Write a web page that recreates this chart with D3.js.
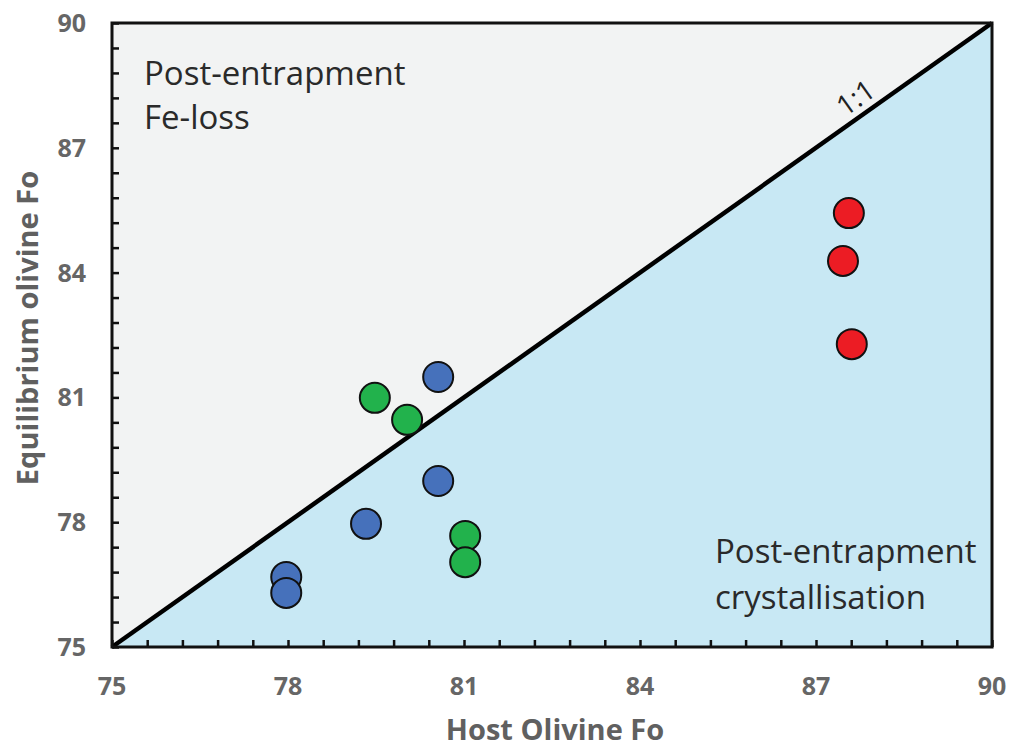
<!DOCTYPE html>
<html>
<head>
<meta charset="utf-8">
<script src="https://cdn.jsdelivr.net/npm/d3@7"></script>
<style>
  body { margin: 0; background: #fff; }
  text { font-family: "Open Sans", "Noto Sans", sans-serif; }
</style>
</head>
<body>
<svg id="chart"></svg>
<script>
// data
const groups = ["blue", "green", "red"];
const hostFo = [
  [80.56, 80.56, 79.33, 77.97, 77.97],
  [79.48, 80.03, 81.02, 81.02],
  [87.56, 87.46, 87.61]
];
const eqFo = [
  [81.49, 78.99, 77.96, 76.68, 76.30],
  [80.99, 80.46, 77.67, 77.04],
  [85.43, 84.28, 82.28]
];
const tickValues = [75, 78, 81, 84, 87, 90];
const colors = { blue: "#4671bb", green: "#22b24c", red: "#ec1c24" };

const width = 1010, height = 749;
const pLeft = 112, pRight = 992, pTop = 23, pBottom = 647;
const svg = d3.select("#chart").attr("width", width).attr("height", height);

const x = d3.scaleLinear().domain([75, 90]).range([pLeft, pRight]);
const y = d3.scaleLinear().domain([75, 90]).range([pBottom, pTop]);

// background regions split by the 1:1 line
svg.append("rect").attr("x", pLeft).attr("y", pTop).attr("width", pRight - pLeft).attr("height", pBottom - pTop).attr("fill", "#f2f3f3");
svg.append("path")
  .attr("d", `M${x(75)},${y(75)}L${x(90)},${y(90)}L${x(90)},${y(75)}Z`)
  .attr("fill", "#c8e8f4");

// minor ticks every 0.6, pointing inward
const minor = d3.range(0, 26).map(i => 75 + i * 0.6);
const xAxis = d3.axisBottom(x).tickValues(minor).tickSize(-7).tickFormat("");
const yAxis = d3.axisLeft(y).tickValues(minor).tickSize(-7).tickFormat("");
const gx = svg.append("g").attr("transform", `translate(0,${pBottom})`).call(xAxis);
const gy = svg.append("g").attr("transform", `translate(${pLeft},0)`).call(yAxis);
[gx, gy].forEach(g => {
  g.select(".domain").remove();
  g.selectAll(".tick line").attr("stroke", "#111").attr("stroke-width", 2.5);
});

// tick labels
svg.selectAll(".xlab").data(tickValues).enter().append("text")
  .attr("x", d => x(d)).attr("y", 695).attr("text-anchor", "middle")
  .attr("font-size", 25).attr("font-weight", "bold").attr("fill", "#666").text(d => d);
svg.selectAll(".ylab").data(tickValues).enter().append("text")
  .attr("x", 86).attr("y", d => y(d) + 9).attr("text-anchor", "end")
  .attr("font-size", 25).attr("font-weight", "bold").attr("fill", "#666").text(d => d);

// 1:1 line
svg.append("line")
  .attr("x1", x(75)).attr("y1", y(75)).attr("x2", x(90)).attr("y2", y(90))
  .attr("stroke", "#000").attr("stroke-width", 4.5);
const ang = Math.atan2(y(90) - y(75), x(90) - x(75)) * 180 / Math.PI;
svg.append("text").attr("transform", `translate(${x(87.85)},${y(87.85)}) rotate(${ang})`)
  .attr("y", -8).attr("text-anchor", "middle").attr("font-size", 28).attr("fill", "#222").text("1:1");

// frame
svg.append("rect").attr("x", pLeft).attr("y", pTop).attr("width", pRight - pLeft).attr("height", pBottom - pTop)
  .attr("fill", "none").attr("stroke", "#111").attr("stroke-width", 3);

// points
groups.forEach((g, gi) => {
  svg.append("g").selectAll("circle").data(hostFo[gi]).enter().append("circle")
    .attr("cx", d => x(d)).attr("cy", (d, i) => y(eqFo[gi][i]))
    .attr("r", 15).attr("fill", colors[g]).attr("stroke", "#111").attr("stroke-width", 2);
});

// region labels
const lab = (t, px, py) => svg.append("text").attr("x", px).attr("y", py)
  .attr("font-size", 33).attr("fill", "#2a2a2a").text(t);
lab("Post-entrapment", 144, 85);
lab("Fe-loss", 144, 129);
lab("Post-entrapment", 715, 563);
lab("crystallisation", 715, 609);

// axis titles
svg.append("text").attr("x", 555).attr("y", 740).attr("text-anchor", "middle")
  .attr("font-size", 29).attr("font-weight", "bold").attr("fill", "#606060").text("Host Olivine Fo");
svg.append("text").attr("transform", `translate(38,${y(82.5) - 7}) rotate(-90)`).attr("text-anchor", "middle")
  .attr("font-size", 29).attr("font-weight", "bold").attr("fill", "#606060").text("Equilibrium olivine Fo");
</script>
</body>
</html>
